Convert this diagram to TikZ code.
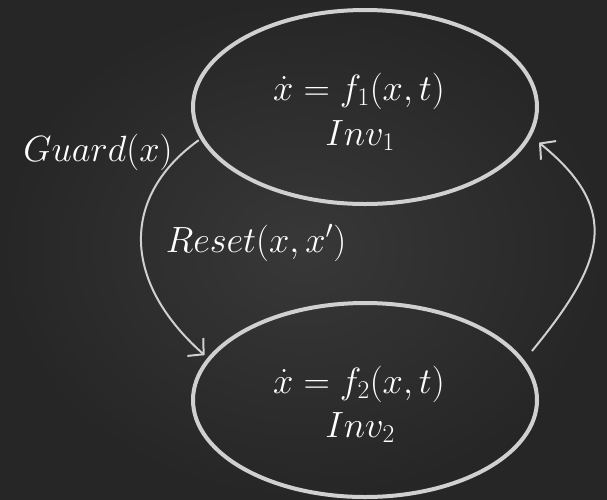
\RequirePackage{fix-cm}
\documentclass[tikz,border=0pt]{standalone}
\usetikzlibrary{arrows.meta,shapes.geometric}
\definecolor{board}{RGB}{38,38,38}
\definecolor{boardlight}{RGB}{56,56,56}
\definecolor{chalk}{RGB}{208,208,208}
\tikzset{
  statebox/.style={ellipse, draw=chalk, line width=4pt, minimum width=344pt, minimum height=194pt, inner sep=0pt},
  chalktext/.style={text=white, anchor=base, font=\fontsize{36.5}{42}\selectfont, inner sep=0pt},
  trans/.style={draw=chalk, line width=2pt, -{Straight Barb[length=11pt,width=24pt,line width=2pt]}}
}
\begin{document}
\begin{tikzpicture}[x=1pt,y=-1pt]
  \path[use as bounding box, inner color=boardlight, outer color=board] (0,0) rectangle (607,499);
  \node[statebox] (top) at (365,107) {};
  \node[statebox] (bot) at (365,400) {};
  \node[chalktext] (f1) at (359,100) {$\dot x = f_1(x,t)$};
  \node[chalktext] (i1) at (360,145) {$Inv_1$};
  \node[chalktext] (f2) at (359,393) {$\dot x = f_2(x,t)$};
  \node[chalktext] (i2) at (360,437) {$Inv_2$};
  \node[chalktext] (guard) at (98,161) {$Guard(x)$};
  \node[chalktext] (reset) at (256,252) {$Reset(x,x')$};
  \draw[trans, shorten <=2pt, shorten >=4pt] (top.191) .. controls (122,195) and (120,280) .. (bot.165);
  \draw[trans, shorten <=12pt, shorten >=10pt] (bot.14) .. controls (605,262) and (622,210) .. (top.-10);
\end{tikzpicture}
\end{document}
